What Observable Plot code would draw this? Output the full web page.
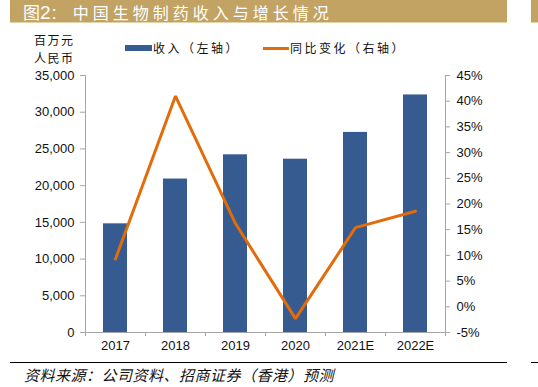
<!DOCTYPE html>
<html>
<head>
<meta charset="utf-8">
<script src="https://cdn.jsdelivr.net/npm/d3@7"></script>
<script src="https://cdn.jsdelivr.net/npm/@observablehq/plot@0.6"></script>
<style>
  html, body { margin: 0; padding: 0; background: #fff; }
  #wrap { position: relative; width: 538px; height: 387px; overflow: hidden; font-family: "Liberation Sans", Arial, sans-serif; }
  #wrap svg { position: absolute; left: 0; top: 0; }
  .abs { position: absolute; white-space: nowrap; }
  .cjk { font-family: "Noto Sans CJK SC", sans-serif; }
</style>
</head>
<body>
<div id="wrap">
  <div class="abs" style="left:10px;top:0;width:497px;height:22px;background:#C2A364;border-bottom:1px solid #E3D3A8;"></div>
  <div class="abs" style="left:531px;top:0;width:7px;height:22px;background:#C2A364;border-bottom:1px solid #E3D3A8;"></div>
  <div class="abs" id="title" style="left:23px;top:0px;height:23px;line-height:23px;color:#fff;font-size:16px;"></div>
  <div class="abs cjk" id="unit" style="left:34px;top:31px;font-size:12px;line-height:18px;letter-spacing:1.5px;color:#111;text-align:center;"></div>
  <div id="legend"></div>
  <div class="abs" style="left:10px;top:362px;width:497px;height:1px;background:#000;"></div>
  <div class="abs" style="left:531px;top:362px;width:7px;height:1px;background:#000;"></div>
  <div class="abs cjk" id="source" style="left:24px;top:364px;font-size:15px;letter-spacing:0.5px;font-style:italic;color:#111;"></div>
</div>
<script>
const categories = ["2017", "2018", "2019", "2020", "2021E", "2022E"];
const revenue = [14800, 20900, 24200, 23600, 27250, 32350];
const growth = [9.3, 41.0, 16.2, -2.3, 15.4, 18.6];
const leftTicks = [0, 5000, 10000, 15000, 20000, 25000, 30000, 35000];
const rightTicks = [-5, 0, 5, 10, 15, 20, 25, 30, 35, 40, 45];
const titleLabel = "图2:";
const titleText = "中国生物制药收入与增长情况";
const unitLines = ["百万元", "人民币"];
const seriesNames = ["收入（左轴）", "同比变化（右轴）"];
const sourceText = "资料来源：公司资料、招商证券（香港）预测";

const BLUE = "#355B91", ORANGE = "#E36C0A", AXIS = "#A6A6A6";
const W = 538, H = 387;
const margins = {marginLeft: 85, marginRight: 93, marginTop: 75, marginBottom: 55};
const font = {fontFamily: "'Liberation Sans', Arial, sans-serif", fontSize: "13px", color: "#111", background: "transparent", overflow: "visible"};

document.getElementById("title").innerHTML =
  '<span class="cjk" style="font-size:17px">' + titleLabel[0] + '</span>' +
  '<span style="font-family:\'Liberation Sans\',Arial;font-size:19px;letter-spacing:1px">' + titleLabel.slice(1) + '</span>' +
  '<span class="cjk" style="display:inline-block;margin-left:15px;letter-spacing:4px">' + titleText + '</span>';
document.getElementById("unit").innerHTML = unitLines.join("<br>");
document.getElementById("source").textContent = sourceText;

const legend = document.getElementById("legend");
[[seriesNames[0], BLUE, 6, 125, 27], [seriesNames[1], ORANGE, 3, 263, 26]].forEach(([name, color, th, x, w]) => {
  const sw = document.createElement("div");
  sw.className = "abs";
  sw.style.cssText = `left:${x}px;top:${48 - th / 2}px;width:${w}px;height:${th}px;background:${color};`;
  legend.appendChild(sw);
  const t = document.createElement("div");
  t.className = "abs cjk";
  t.style.cssText = `left:${x + w + 1}px;top:38px;font-size:12px;letter-spacing:2.5px;line-height:20px;color:#111;`;
  t.textContent = name;
  legend.appendChild(t);
});

const barData = revenue.map((v, i) => ({i, v}));
const lineData = growth.map((v, i) => ({i, v}));
const idx = d3.range(categories.length);

const barPlot = Plot.plot({
  width: W, height: H, ...margins,
  style: font,
  x: {type: "linear", domain: [0, categories.length]},
  y: {domain: [0, 35000]},
  marks: [
    Plot.rectY(barData, {x1: d => d.i, x2: d => d.i + 1, y1: 0, y2: "v", insetLeft: 18, insetRight: 18, fill: BLUE}),
    Plot.ruleX([0], {stroke: AXIS}),
    Plot.ruleY([0], {stroke: AXIS}),
    Plot.axisY({ticks: leftTicks, tickFormat: d3.format(","), tickSize: 5, tickPadding: 6, stroke: AXIS, label: null, fill: "#111"}),
    Plot.axisX({ticks: d3.range(categories.length + 1), tickFormat: () => "", tickSize: 4, stroke: AXIS, label: null}),
    Plot.axisX({ticks: idx.map(i => i + 0.5), tickFormat: d => categories[Math.floor(d)], tickSize: 0, tickPadding: 8, label: null, fill: "#111"})
  ]
});

const linePlot = Plot.plot({
  width: W, height: H, ...margins,
  style: font,
  x: {type: "linear", domain: [0, categories.length], axis: null},
  y: {domain: [-5, 45], axis: null},
  marks: [
    Plot.ruleX([categories.length], {stroke: AXIS}),
    Plot.axisY({anchor: "right", ticks: rightTicks, tickFormat: d => d + "%", tickSize: 4, tickPadding: 7, stroke: AXIS, label: null, fill: "#111"}),
    Plot.line(lineData, {x: d => d.i + 0.5, y: "v", stroke: ORANGE, strokeWidth: 3, strokeLinejoin: "miter"})
  ]
});

const wrap = document.getElementById("wrap");
wrap.appendChild(barPlot);
wrap.appendChild(linePlot);
</script>
</body>
</html>
